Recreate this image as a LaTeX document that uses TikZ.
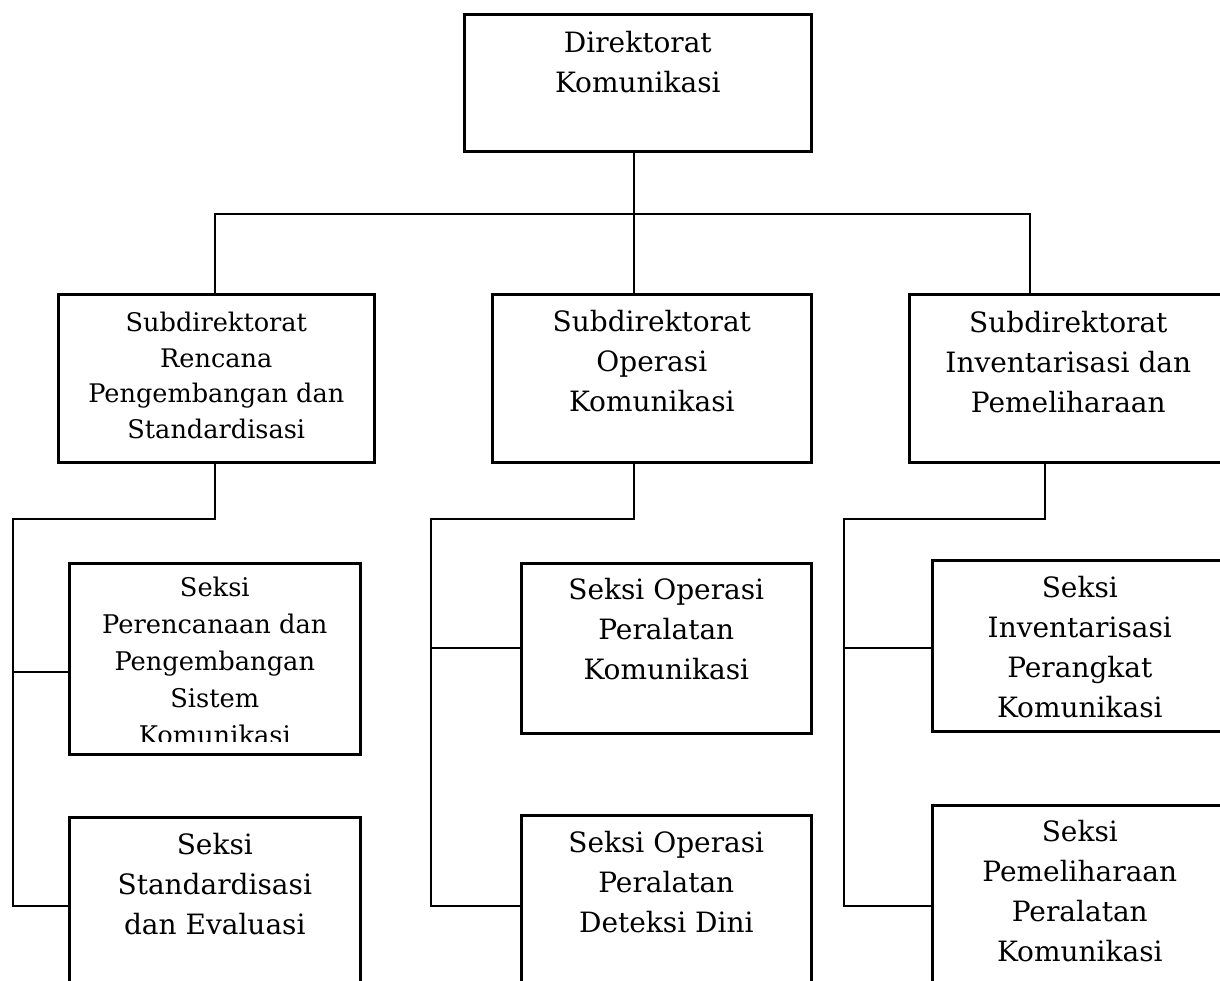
\documentclass[tikz,border=0pt]{standalone}
\usepackage{fontspec}
\setmainfont{DejaVu Serif}
\usetikzlibrary{positioning}

\begin{document}
\begin{tikzpicture}[x=1pt, y=-1pt,
  box/.style={draw, line width=2.6pt, inner sep=0pt, anchor=north west},
  txt/.style={align=center, inner sep=0pt, font=\fontsize{28}{40}\selectfont},
  small/.style={font=\fontsize{25.6}{35.5}\selectfont},
  conn/.style={line width=2.6pt}]
\useasboundingbox (0,0) rectangle (1220,980);
\clip (0,0) rectangle (1220,980);

% kotak
\node[box, minimum width=347pt, minimum height=137pt] (dir) at (463,13) {};
\node[box, minimum width=316pt, minimum height=168pt] (sub1) at (57,293) {};
\node[box, minimum width=319pt, minimum height=168pt] (sub2) at (491,293) {};
\node[box, minimum width=318pt, minimum height=168pt] (sub3) at (908,293) {};
\node[box, minimum width=291pt, minimum height=191pt] (sek1) at (68,562) {};
\node[box, minimum width=291pt, minimum height=180pt] (sek2) at (68,816) {};
\node[box, minimum width=290pt, minimum height=170pt] (sek3) at (520,562) {};
\node[box, minimum width=290pt, minimum height=180pt] (sek4) at (520,814) {};
\node[box, minimum width=295pt, minimum height=171pt] (sek5) at (931,559) {};
\node[box, minimum width=295pt, minimum height=190pt] (sek6) at (931,804) {};

% teks
\node[txt, below=18pt of dir.north] (dirT) {Direktorat\\Komunikasi};
\node[txt, small, below=19pt of sub1.north] (sub1T) {Subdirektorat\\Rencana\\Pengembangan dan\\Standardisasi};
\node[txt, below=17.5pt of sub2.north] (sub2T) {Subdirektorat\\Operasi\\Komunikasi};
\node[txt, below=18pt of sub3.north] (sub3T) {Subdirektorat\\Inventarisasi dan\\Pemeliharaan};
\begin{scope}
\clip (68,562) rectangle (359,741);
\node[txt, font=\fontsize{25.7}{37}\selectfont, below=15pt of sek1.north] (sek1T) {Seksi\\Perencanaan dan\\Pengembangan\\Sistem\\Komunikasi};
\end{scope}
\node[txt, below=17pt of sek2.north] (sek2T) {Seksi\\Standardisasi\\dan Evaluasi};
\node[txt, below=16.5pt of sek3.north] (sek3T) {Seksi Operasi\\Peralatan\\Komunikasi};
\node[txt, below=17pt of sek4.north] (sek4T) {Seksi Operasi\\Peralatan\\Deteksi Dini};
\node[txt, below=17pt of sek5.north] (sek5T) {Seksi\\Inventarisasi\\Perangkat\\Komunikasi};
\node[txt, below=16pt of sek6.north] (sek6T) {Seksi\\Pemeliharaan\\Peralatan\\Komunikasi};

% garis
\coordinate (top) at (634,214);
\coordinate (busL) at (215,214);
\coordinate (busR) at (1030,214);
\draw[conn] (dir.south -| top) -- (sub2.north -| top);
\draw[conn] (sub1.north -| busL) -- (busL) -- (busR) -- (sub3.north -| busR);

\coordinate (jL) at (215,519);
\coordinate (eL) at (13,519);
\coordinate (aL) at (13,672);
\coordinate (bL) at (13,906);
\draw[conn] (sub1.south -| jL) -- (jL) -- (eL) -- (bL) -- (bL -| sek2.west);
\draw[conn] (aL) -- (aL -| sek1.west);

\coordinate (jM) at (634,519);
\coordinate (eM) at (431,519);
\coordinate (aM) at (431,648);
\coordinate (bM) at (431,906);
\draw[conn] (sub2.south -| jM) -- (jM) -- (eM) -- (bM) -- (bM -| sek4.west);
\draw[conn] (aM) -- (aM -| sek3.west);

\coordinate (jR) at (1045,519);
\coordinate (eR) at (844,519);
\coordinate (aR) at (844,648);
\coordinate (bR) at (844,906);
\draw[conn] (sub3.south -| jR) -- (jR) -- (eR) -- (bR) -- (bR -| sek6.west);
\draw[conn] (aR) -- (aR -| sek5.west);
\end{tikzpicture}
\end{document}
